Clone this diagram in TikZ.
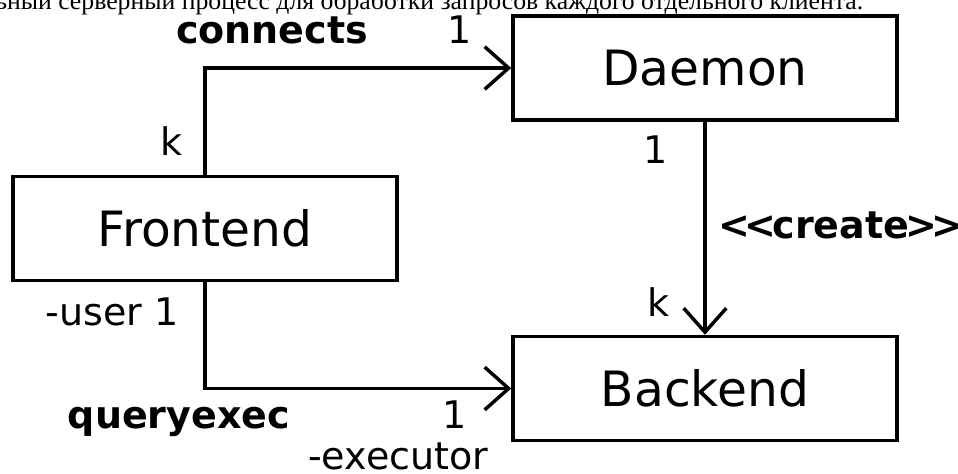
\documentclass[tikz,border=0pt]{standalone}
\usepackage{fontspec}
\setmainfont[Ligatures=NoCommon]{DejaVu Sans}
\newfontfamily\rufont{Liberation Serif}
\usetikzlibrary{arrows.meta}
\newcommand{\ltk}{\kern-2.5pt{<}\kern-2.5pt}
\newcommand{\gtk}{\kern-2.5pt{>}\kern-2.5pt}
\begin{document}
\begin{tikzpicture}[x=0.75pt,y=-0.75pt,
  box/.style={draw, line width=2.6pt, minimum width=288pt, minimum height=78pt, inner sep=0pt, font=\fontsize{36.5}{40}\selectfont},
  lbl/.style={inner sep=0pt, font=\fontsize{28.5}{32}\selectfont},
  blbl/.style={inner sep=0pt, font=\fontsize{28.5}{32}\selectfont\bfseries},
  assoc/.style={line width=2.6pt, -{Straight Barb[length=18pt,width=32pt]}}]
\useasboundingbox (0,0) rectangle (958,474);
\node[inner sep=0pt, anchor=base west, font=\rufont\fontsize{19.3}{21}\selectfont] (top) at (-5,10) {ьный серверный процесс для обработки запросов каждого отдельного клиента.};
\node[box] (D) at (705,68) {Daemon};
\node[box] (F) at (205,228.5) {Frontend};
\node[box] (B) at (705,388.5) {Backend};
\draw[assoc] (F.north) |- (D.west);
\draw[assoc] (F.south) |- (B.west);
\draw[assoc] (D.south) -- (B.north);
\node[blbl, anchor=base] (lc) at (272,44) {connects};
\node[lbl, anchor=base] (l1a) at (460,44) {1};
\node[lbl, anchor=base] (lka) at (172,156) {k};
\node[lbl, anchor=base] (lu) at (112,326) {-user 1};
\node[blbl, anchor=base] (lq) at (179,428) {queryexec};
\node[lbl, anchor=base] (l1b) at (455,428) {1};
\node[lbl, anchor=base west] (le) at (308,469) {-executor};
\node[lbl, anchor=base] (l1c) at (656,164) {1};
\node[blbl, anchor=base west] (lcr) at (722,239) {\ltk\ltk create\gtk\gtk};
\node[lbl, anchor=base] (lkb) at (658,316) {k};
\end{tikzpicture}
\end{document}
